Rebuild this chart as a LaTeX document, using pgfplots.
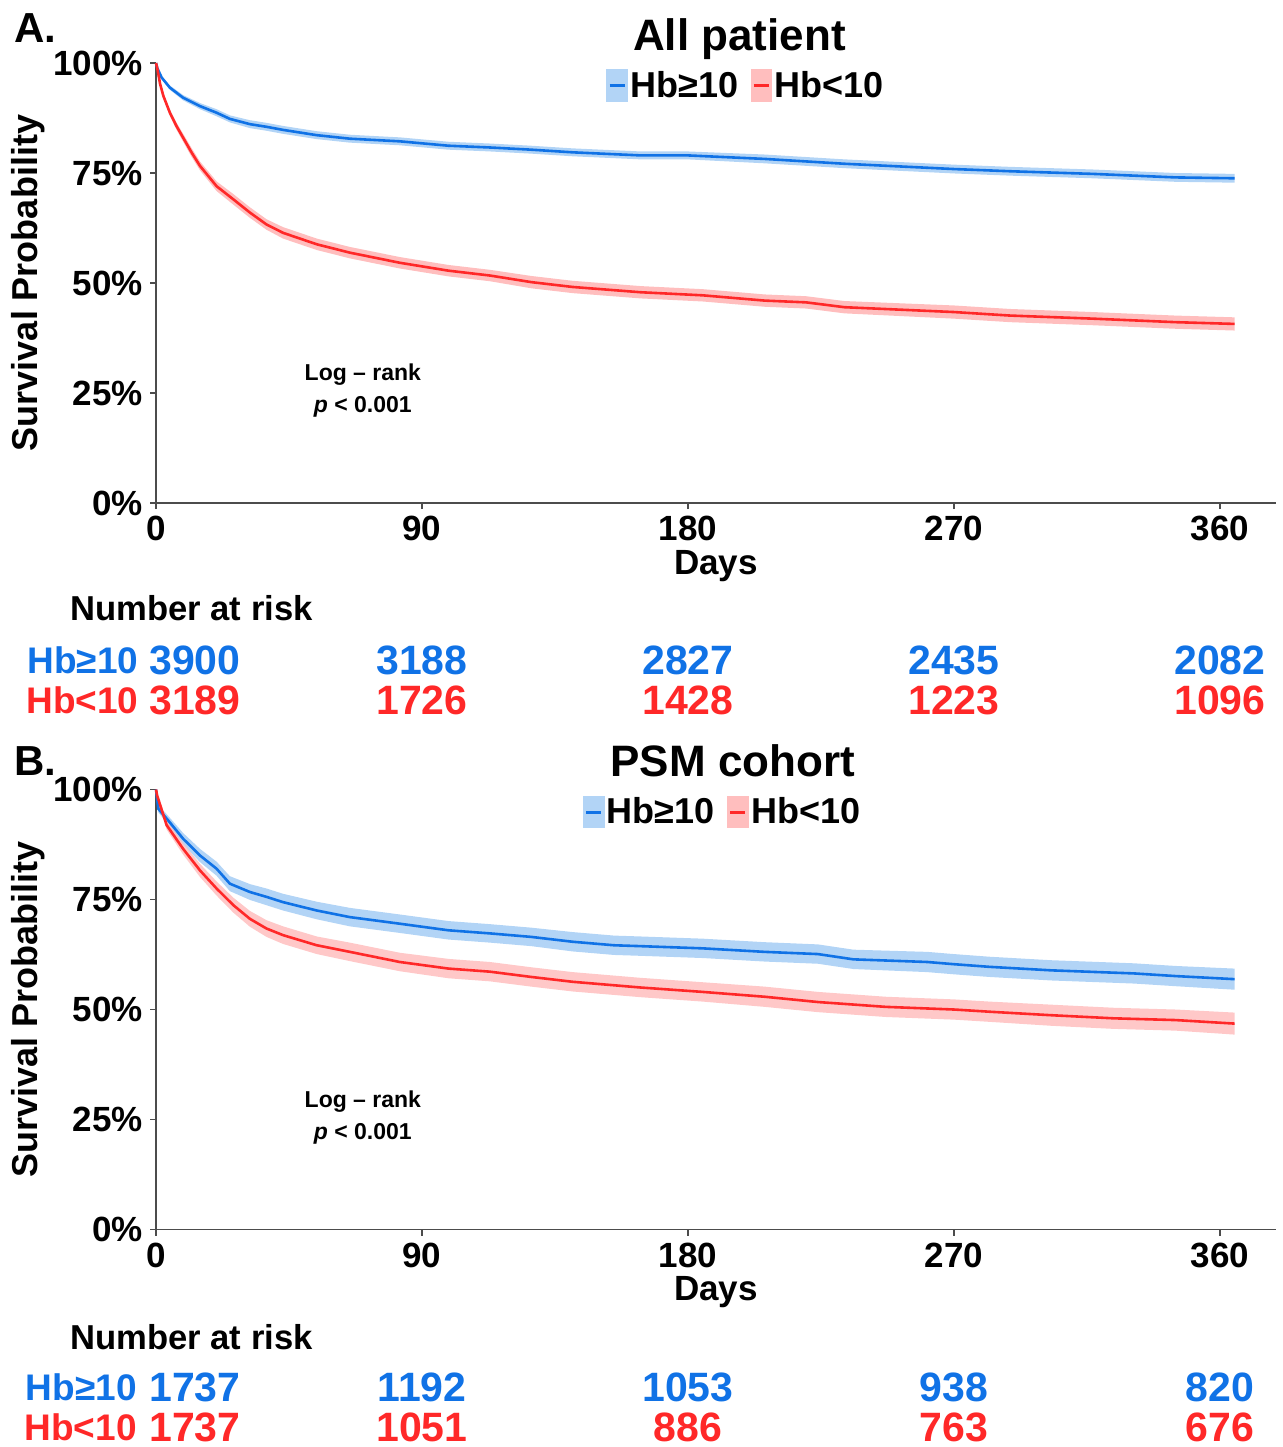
\documentclass[border=0pt]{standalone}
\usepackage{fontspec}
\setmainfont{Liberation Sans}
\usepackage{pgfplots}
\usepackage{pgfplotstable}
\pgfplotsset{compat=1.18}
\usepgfplotslibrary{fillbetween}

\definecolor{hbhi}{RGB}{16,114,230}
\definecolor{hblo}{RGB}{255,40,40}
\definecolor{hbhiband}{RGB}{178,212,246}
\definecolor{hbloband}{RGB}{255,190,190}

% t = day, s = survival, w = half width of the confidence band
\pgfplotstableread{
t s w
0 1.000 0.000
0.4 0.989 0.002
1.9 0.967 0.004
4.7 0.944 0.005
9.2 0.921 0.006
14.9 0.902 0.007
20.5 0.887 0.008
25 0.873 0.008
31.8 0.861 0.009
37.4 0.855 0.009
43 0.848 0.009
54.4 0.836 0.009
65.6 0.828 0.009
82.5 0.822 0.009
99 0.812 0.009
113 0.808 0.009
127 0.803 0.009
141 0.797 0.009
164 0.790 0.009
180 0.790 0.009
206 0.782 0.010
233 0.771 0.010
270 0.759 0.010
289 0.754 0.010
317 0.748 0.010
345 0.740 0.010
365 0.738 0.010
}\blueA

\pgfplotstableread{
t s w
0 1.000 0.000
0.4 0.989 0.003
1.4 0.952 0.005
2.5 0.925 0.006
4.7 0.887 0.007
6.9 0.857 0.008
9.2 0.830 0.009
12.1 0.796 0.010
14.9 0.766 0.010
20.5 0.720 0.011
26.2 0.690 0.012
31.8 0.660 0.012
37.4 0.633 0.012
43 0.614 0.013
54.4 0.588 0.013
65.6 0.569 0.013
82.5 0.546 0.013
99 0.528 0.013
113 0.517 0.013
127 0.502 0.014
141 0.491 0.014
164 0.479 0.014
185 0.472 0.014
206 0.460 0.014
220 0.456 0.014
233 0.445 0.014
270 0.434 0.015
289 0.426 0.015
317 0.419 0.015
345 0.411 0.015
365 0.407 0.015
}\redA

\pgfplotstableread{
t s w
0 1.000 0.000
0.8 0.956 0.008
3.6 0.934 0.010
9.2 0.888 0.013
14.9 0.850 0.015
20.5 0.820 0.016
25 0.786 0.017
31.8 0.767 0.018
37.4 0.756 0.019
43 0.744 0.019
54.4 0.725 0.020
65.6 0.710 0.021
82.5 0.695 0.021
99 0.680 0.021
113 0.673 0.021
127 0.665 0.021
141 0.654 0.022
155 0.646 0.022
164 0.644 0.022
185 0.639 0.022
206 0.631 0.022
224 0.626 0.022
236 0.614 0.022
261 0.608 0.023
270 0.603 0.023
282 0.597 0.023
303 0.589 0.023
331 0.582 0.023
345 0.576 0.023
365 0.569 0.024
}\blueB

\pgfplotstableread{
t s w
0 1.000 0.000
0.4 0.986 0.005
3.6 0.919 0.010
9.2 0.865 0.013
14.9 0.816 0.015
20.5 0.775 0.016
26.2 0.737 0.017
31.8 0.706 0.018
37.4 0.684 0.019
43 0.669 0.020
54.4 0.646 0.020
65.6 0.631 0.021
82.5 0.608 0.021
99 0.593 0.022
113 0.586 0.022
127 0.574 0.022
141 0.563 0.022
164 0.550 0.022
185 0.540 0.022
206 0.529 0.023
224 0.517 0.023
247 0.506 0.023
270 0.500 0.023
282 0.495 0.023
303 0.487 0.024
324 0.480 0.024
345 0.476 0.024
365 0.468 0.025
}\redB

\pgfplotsset{
  kmaxis/.style={
    scale only axis, width=560pt, height=220pt,
    xmin=0, xmax=379, ymin=0, ymax=1,
    axis lines=left, axis line style={-, black!70, line width=0.9pt},
    xtick={0,90,180,270,360}, xticklabels={0,90,180,270,360},
    ytick={0,0.25,0.5,0.75,1}, yticklabels={0\%,25\%,50\%,75\%,100\%},
    tick align=outside, major tick length=3pt,
    tick style={black!70, line width=0.9pt},
    ticklabel style={font=\fontsize{17.5}{20}\selectfont\bfseries},
    xlabel=Days, ylabel=Survival Probability,
    xlabel style={at={(axis description cs:0.5,-0.143)}, anchor=center,
      font=\fontsize{17.5}{20}\selectfont\bfseries},
    ylabel style={at={(axis description cs:-0.114,0.5)}, anchor=center,
      font=\fontsize{18}{20}\selectfont\bfseries},
    clip=false,
    legend columns=2,
    legend style={anchor=north, draw=none, fill=none, inner sep=0pt,
      font=\fontsize{18}{21}\selectfont\bfseries,
      /tikz/every even column/.append style={column sep=5pt},
      nodes={inner sep=1.2pt}},
  },
  hiline/.style={hbhi, line width=1.3pt,
    legend image code/.code={
      \fill[hbhiband] (0pt,-7.5pt) rectangle (9.5pt,7.5pt);
      \draw[hbhi, line width=1.5pt] (1pt,0pt) -- (8.5pt,0pt);}},
  loline/.style={hblo, line width=1.3pt,
    legend image code/.code={
      \fill[hbloband] (0pt,-7.5pt) rectangle (9.5pt,7.5pt);
      \draw[hblo, line width=1.5pt] (1pt,0pt) -- (8.5pt,0pt);}},
}

\newcommand{\risknum}{\fontsize{20.5}{24}\selectfont\bfseries}
\newcommand{\risklab}{\fontsize{18.5}{22}\selectfont\bfseries}
\newcommand{\nar}{\fontsize{17.3}{20}\selectfont\bfseries}
\newcommand{\lrfont}{\fontsize{11.5}{14}\selectfont\bfseries}

\begin{document}
\begin{tikzpicture}

\node[anchor=base west, inner sep=0pt, font=\fontsize{21}{24}\selectfont\bfseries] at (7pt,-21pt) {A.};
\node[anchor=base west, inner sep=0pt, font=\fontsize{21}{24}\selectfont\bfseries] at (7pt,-387.5pt) {B.};

% ---------------- panel A ----------------
\begin{axis}[kmaxis, at={(78pt,-251.5pt)}, anchor=south west,
    legend style={at={(0.527,0.988)}},
    title={All patient},
    title style={at={(0.521,1)}, anchor=base, yshift=0.3pt,
      font=\fontsize{22}{26}\selectfont\bfseries}]
  \addplot[name path=aU, draw=none, forget plot] table[x=t, y expr=\thisrow{s}+\thisrow{w}] {\blueA};
  \addplot[name path=aL, draw=none, forget plot] table[x=t, y expr=\thisrow{s}-\thisrow{w}] {\blueA};
  \addplot[hbhiband, forget plot] fill between[of=aU and aL];
  \addplot[name path=bU, draw=none, forget plot] table[x=t, y expr=\thisrow{s}+\thisrow{w}] {\redA};
  \addplot[name path=bL, draw=none, forget plot] table[x=t, y expr=\thisrow{s}-\thisrow{w}] {\redA};
  \addplot[hbloband, forget plot] fill between[of=bU and bL];
  \addplot[hiline] table[x=t, y=s] {\blueA};
  \addlegendentry{Hb≥10}
  \addplot[loline] table[x=t, y=s] {\redA};
  \addlegendentry{Hb<10}

  \node[font=\lrfont, align=center] at (axis cs:70,0.255) {Log -- rank\\[2pt]\textit{p} < 0.001};

  \node[anchor=west, inner sep=0pt, font=\nar] at (axis cs:-29.1,-0.239) {Number at risk};
  \node[anchor=east, inner sep=0pt, font=\risklab, text=hbhi] at (axis cs:-5.8,-0.357) {Hb≥10};
  \node[anchor=east, inner sep=0pt, font=\risklab, text=hblo] at (axis cs:-5.8,-0.448) {Hb<10};
  \node[anchor=west, inner sep=0pt, font=\risknum, text=hbhi] at (axis cs:-2.4,-0.357) {3900};
  \node[anchor=west, inner sep=0pt, font=\risknum, text=hblo] at (axis cs:-2.4,-0.448) {3189};
  \node[inner sep=0pt, font=\risknum, text=hbhi] at (axis cs:90,-0.357) {3188};
  \node[inner sep=0pt, font=\risknum, text=hblo] at (axis cs:90,-0.448) {1726};
  \node[inner sep=0pt, font=\risknum, text=hbhi] at (axis cs:180,-0.357) {2827};
  \node[inner sep=0pt, font=\risknum, text=hblo] at (axis cs:180,-0.448) {1428};
  \node[inner sep=0pt, font=\risknum, text=hbhi] at (axis cs:270,-0.357) {2435};
  \node[inner sep=0pt, font=\risknum, text=hblo] at (axis cs:270,-0.448) {1223};
  \node[inner sep=0pt, font=\risknum, text=hbhi] at (axis cs:360,-0.357) {2082};
  \node[inner sep=0pt, font=\risknum, text=hblo] at (axis cs:360,-0.448) {1096};
\end{axis}

% ---------------- panel B ----------------
\begin{axis}[kmaxis, at={(78pt,-614.75pt)}, anchor=south west,
    legend style={at={(0.506,0.988)}},
    title={PSM cohort},
    title style={at={(0.515,1)}, anchor=base, yshift=0.3pt,
      font=\fontsize{22}{26}\selectfont\bfseries}]
  \addplot[name path=cU, draw=none, forget plot] table[x=t, y expr=\thisrow{s}+\thisrow{w}] {\blueB};
  \addplot[name path=cL, draw=none, forget plot] table[x=t, y expr=\thisrow{s}-\thisrow{w}] {\blueB};
  \addplot[hbhiband, forget plot] fill between[of=cU and cL];
  \addplot[name path=dU, draw=none, forget plot] table[x=t, y expr=\thisrow{s}+\thisrow{w}] {\redB};
  \addplot[name path=dL, draw=none, forget plot] table[x=t, y expr=\thisrow{s}-\thisrow{w}] {\redB};
  \addplot[hbloband, opacity=0.85, forget plot] fill between[of=dU and dL];
  \addplot[hiline] table[x=t, y=s] {\blueB};
  \addlegendentry{Hb≥10}
  \addplot[loline] table[x=t, y=s] {\redB};
  \addlegendentry{Hb<10}

  \node[font=\lrfont, align=center] at (axis cs:70,0.255) {Log -- rank\\[2pt]\textit{p} < 0.001};

  \node[anchor=west, inner sep=0pt, font=\nar] at (axis cs:-29.1,-0.244) {Number at risk};
  \node[anchor=east, inner sep=0pt, font=\risklab, text=hbhi] at (axis cs:-6.4,-0.358) {Hb≥10};
  \node[anchor=east, inner sep=0pt, font=\risklab, text=hblo] at (axis cs:-6.4,-0.449) {Hb<10};
  \node[anchor=west, inner sep=0pt, font=\risknum, text=hbhi] at (axis cs:-2.4,-0.358) {1737};
  \node[anchor=west, inner sep=0pt, font=\risknum, text=hblo] at (axis cs:-2.4,-0.449) {1737};
  \node[inner sep=0pt, font=\risknum, text=hbhi] at (axis cs:90,-0.358) {1192};
  \node[inner sep=0pt, font=\risknum, text=hblo] at (axis cs:90,-0.449) {1051};
  \node[inner sep=0pt, font=\risknum, text=hbhi] at (axis cs:180,-0.358) {1053};
  \node[inner sep=0pt, font=\risknum, text=hblo] at (axis cs:180,-0.449) {886};
  \node[inner sep=0pt, font=\risknum, text=hbhi] at (axis cs:270,-0.358) {938};
  \node[inner sep=0pt, font=\risknum, text=hblo] at (axis cs:270,-0.449) {763};
  \node[inner sep=0pt, font=\risknum, text=hbhi] at (axis cs:360,-0.358) {820};
  \node[inner sep=0pt, font=\risknum, text=hblo] at (axis cs:360,-0.449) {676};
\end{axis}

\pgfresetboundingbox
\useasboundingbox (0,0) rectangle (641.5pt,-723.5pt);
\end{tikzpicture}
\end{document}
